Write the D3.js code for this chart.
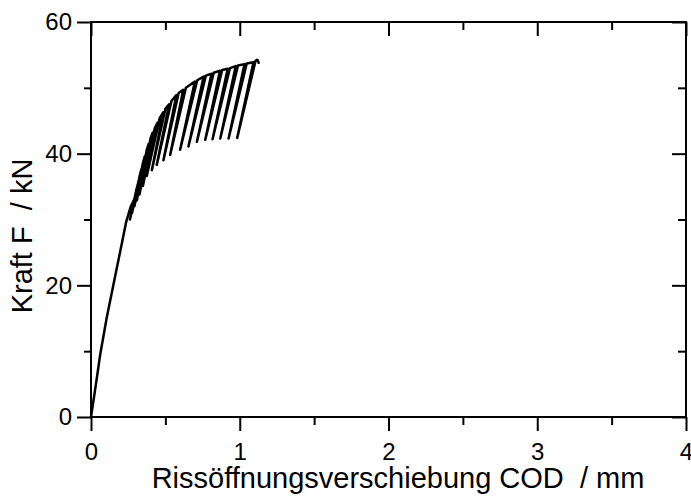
<!DOCTYPE html>
<html>
<head>
<meta charset="utf-8">
<script src="https://cdn.jsdelivr.net/npm/d3@7"></script>
<style>
    body { margin: 0; background: #fff; }
    .axis text { font-family: "Liberation Sans", Arial, sans-serif; font-size: 24px; fill: #000; }
    .axis line { stroke: #000; stroke-width: 2; }
    .axis .domain { display: none; }
    .frame { fill: none; stroke: #000; stroke-width: 2; }
    .curve { fill: none; stroke: #000; stroke-width: 2.5; stroke-linejoin: round; stroke-linecap: round; }
    .axisTitle { font-family: "Liberation Sans", Arial, sans-serif; font-size: 29px; fill: #000; }
</style>
</head>
<body>
<script>
//wrap everything in an anonymous function so nothing sits in global scope
(function () {

    //tick values
    var xMajor = [0, 1, 2, 3, 4],
        xMinor = [0.5, 1.5, 2.5, 3.5],
        yMajor = [0, 20, 40, 60],
        yMinor = [10, 30, 50];

    //first loading branch (COD in mm, force in kN)
    var loadCod = [0, 0.030, 0.062, 0.105, 0.150, 0.195, 0.236, 0.266];
    var loadForce = [0, 4.5, 9.5, 15, 20, 25, 29.6, 31.9];

    //load cycles: peak on the envelope, lowest point of unloading, point where reloading meets envelope
    var peakCod = [0.293, 0.315, 0.338, 0.362, 0.388, 0.415, 0.447, 0.486, 0.525, 0.574,
                   0.620, 0.698, 0.757, 0.810, 0.867, 0.919, 0.973, 1.032, 1.092];
    var peakForce = [33.2, 35.4, 37.6, 39.6, 41.5, 43.2, 44.7, 46.3, 47.5, 48.9,
                     49.7, 50.96, 51.7, 52.15, 52.6, 52.9, 53.3, 53.6, 53.9];
    var valleyCod = [0.262, 0.276, 0.292, 0.308, 0.326, 0.349, 0.375, 0.409, 0.442, 0.487,
                     0.532, 0.599, 0.655, 0.712, 0.768, 0.817, 0.869, 0.925, 0.983];
    var valleyForce = [30.0, 31.0, 32.0, 32.9, 33.8, 35.1, 36.6, 37.5, 38.3, 39.0,
                       39.8, 40.6, 41.1, 41.8, 42.1, 42.2, 42.3, 42.3, 42.4];
    var rejoinCod = [0.305, 0.327, 0.350, 0.375, 0.401, 0.429, 0.462, 0.500, 0.541, 0.589,
                     0.638, 0.714, 0.772, 0.825, 0.882, 0.934, 0.988, 1.047, 1.106];
    var rejoinForce = [34.5, 36.6, 38.7, 40.6, 42.4, 43.9, 45.4, 46.8, 48.0, 49.2,
                       50.0, 51.15, 51.85, 52.3, 52.7, 53.0, 53.4, 53.7, 54.1];

    //end of the test
    var endCod = [1.114, 1.121, 1.127];
    var endForce = [54.25, 54.2, 53.8];

    window.onload = setChart();

    function setChart() {

        var width = 691,
            height = 497;

        var svg = d3.select("body")
            .append("svg")
            .attr("width", width)
            .attr("height", height);

        svg.append("rect")
            .attr("width", width)
            .attr("height", height)
            .attr("fill", "#fff");

        //scales
        var x = d3.scaleLinear().domain([0, 4]).range([91, 686]);
        var y = d3.scaleLinear().domain([0, 60]).range([417, 22]);

        //bottom axis, ticks outward
        svg.append("g")
            .attr("class", "axis")
            .attr("transform", "translate(0," + y(0) + ")")
            .call(d3.axisBottom(x).tickValues(xMajor).tickSize(14).tickPadding(12).tickFormat(d3.format("d")));
        svg.append("g")
            .attr("class", "axis")
            .attr("transform", "translate(0," + y(0) + ")")
            .call(d3.axisBottom(x).tickValues(xMinor).tickSize(8).tickFormat(""));

        //left axis, ticks outward
        svg.append("g")
            .attr("class", "axis")
            .attr("transform", "translate(" + x(0) + ",0)")
            .call(d3.axisLeft(y).tickValues(yMajor).tickSize(14).tickPadding(5).tickFormat(d3.format("d")));
        svg.append("g")
            .attr("class", "axis")
            .attr("transform", "translate(" + x(0) + ",0)")
            .call(d3.axisLeft(y).tickValues(yMinor).tickSize(7).tickFormat(""));

        //top and right axes, ticks inward, no labels
        svg.append("g")
            .attr("class", "axis")
            .attr("transform", "translate(0," + y(60) + ")")
            .call(d3.axisTop(x).tickValues(xMajor).tickSize(-14).tickFormat(""));
        svg.append("g")
            .attr("class", "axis")
            .attr("transform", "translate(0," + y(60) + ")")
            .call(d3.axisTop(x).tickValues(xMinor).tickSize(-8).tickFormat(""));
        svg.append("g")
            .attr("class", "axis")
            .attr("transform", "translate(" + x(4) + ",0)")
            .call(d3.axisRight(y).tickValues(yMajor).tickSize(-14).tickFormat(""));
        svg.append("g")
            .attr("class", "axis")
            .attr("transform", "translate(" + x(4) + ",0)")
            .call(d3.axisRight(y).tickValues(yMinor).tickSize(-8).tickFormat(""));

        //frame
        svg.append("rect")
            .attr("class", "frame")
            .attr("x", x(0))
            .attr("y", y(60))
            .attr("width", x(4) - x(0))
            .attr("height", y(0) - y(60));

        //put the curve together: first loading, then each unload/reload cycle, then the end
        var points = [];
        for (var i = 0; i < loadCod.length; i++) {
            points.push([loadCod[i], loadForce[i]]);
        }
        for (var j = 0; j < peakCod.length; j++) {
            points.push([peakCod[j], peakForce[j]]);
            points.push([valleyCod[j], valleyForce[j]]);
            points.push([rejoinCod[j], rejoinForce[j]]);
        }
        for (var k = 0; k < endCod.length; k++) {
            points.push([endCod[k], endForce[k]]);
        }

        var line = d3.line()
            .x(function (d) { return x(d[0]); })
            .y(function (d) { return y(d[1]); });

        svg.append("path")
            .datum(points)
            .attr("class", "curve")
            .attr("d", line);

        //axis titles
        svg.append("text")
            .attr("class", "axisTitle")
            .attr("x", 398)
            .attr("y", 488)
            .attr("text-anchor", "middle")
            .attr("xml:space", "preserve")
            .text("Rissöffnungsverschiebung COD  / mm");

        svg.append("text")
            .attr("class", "axisTitle")
            .attr("transform", "translate(32,236) rotate(-90)")
            .attr("text-anchor", "middle")
            .attr("xml:space", "preserve")
            .text("Kraft F  / kN");
    };

})();
</script>
</body>
</html>
